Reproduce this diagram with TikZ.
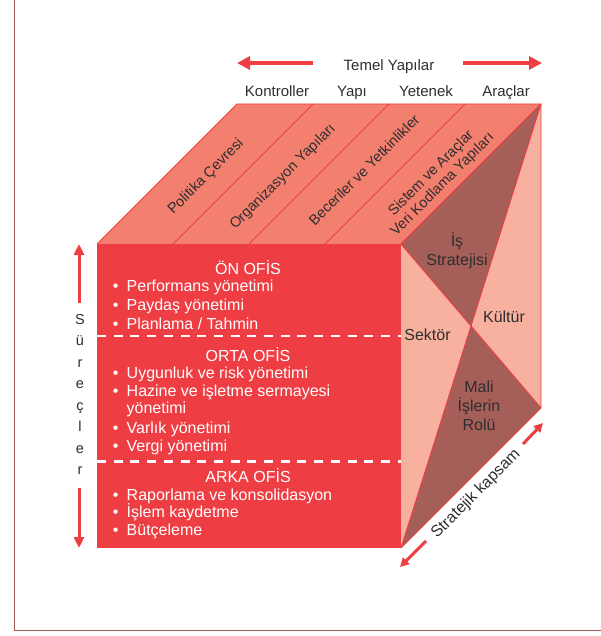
\documentclass[tikz,border=0pt]{standalone}
\usepackage{fontspec}
\setmainfont{Liberation Sans}
\usetikzlibrary{arrows.meta}
\definecolor{frontred}{HTML}{EE3D43}
\definecolor{topsalmon}{HTML}{F37F6F}
\definecolor{darkbrown}{HTML}{A65E58}
\definecolor{lightsalmon}{HTML}{F8B19E}
\definecolor{framecol}{HTML}{A85A5A}
\definecolor{txtgray}{HTML}{2E2E2E}
\tikzset{
  edge/.style={draw=frontred, line width=0.9pt, line join=round},
  bigarrow/.style={draw=frontred, line width=4pt, -{Triangle[length=13pt,width=13pt]}},
  midarrow/.style={draw=frontred, line width=3pt, -{Triangle[length=11pt,width=10pt]}},
  smallarrow/.style={draw=frontred, line width=3pt, -{Triangle[length=9pt,width=9pt]}},
  lbl/.style={text=txtgray, font=\fontsize{15}{18}\selectfont, inner sep=0pt, anchor=base},
  toplbl/.style={text=txtgray, font=\fontsize{14.5}{16}\selectfont, inner sep=0pt, rotate=45, align=center},
  facelbl/.style={text=txtgray, font=\fontsize{16}{19}\selectfont, inner sep=0pt, anchor=base},
  head/.style={text=white, font=\fontsize{16}{19}\selectfont, inner sep=0pt, anchor=base},
  item/.style={text=white, font=\fontsize{16}{19}\selectfont, inner sep=0pt, anchor=base west},
  bul/.style={text=white, font=\fontsize{16}{19}\selectfont, inner sep=0pt, anchor=base},
  sep/.style={draw=white, line width=2.5pt, dash pattern=on 9pt off 7.7pt}
}
\begin{document}
\begin{tikzpicture}[x=1pt,y=-1pt]
\useasboundingbox (0,0) rectangle (601,636);
% frame
\coordinate (fTop) at (14.5,0);
\coordinate (fCorner) at (14.5,630.5);
\coordinate (fRight) at (601,630.5);
\draw[framecol, line width=1.5pt] (fTop) -- (fCorner) -- (fRight);

% cube corners
\coordinate (A) at (97,244);
\coordinate (B) at (401,244);
\coordinate (C) at (401,548);
\coordinate (D) at (97,548);
\coordinate (E) at (237,104);
\coordinate (F) at (541,104);
\coordinate (G) at (541,408);
\coordinate (M) at (471,326);

% top face
\fill[topsalmon] (A) -- (B) -- (F) -- (E) -- cycle;
\foreach \i/\fx/\bx in {1/173/313, 2/249/389, 3/325/465}{
  \coordinate (tf\i) at (\fx,244);
  \coordinate (tb\i) at (\bx,104);
  \draw[edge] (tf\i) -- (tb\i);
}
\draw[edge] (A) -- (E) -- (F) -- (B);

% right face
\fill[lightsalmon] (B) -- (F) -- (G) -- (C) -- cycle;
\fill[darkbrown] (B) -- (F) -- (M) -- cycle;
\fill[darkbrown] (C) -- (G) -- (M) -- cycle;
\draw[edge] (B) -- (M) -- (F);
\draw[edge] (C) -- (M) -- (G);
\draw[edge] (B) -- (F) -- (G) -- (C);

% front face
\fill[frontred] (A) rectangle (C);

% separators
\coordinate (s1a) at (97,336);
\coordinate (s1b) at (401,336);
\coordinate (s2a) at (97,461.5);
\coordinate (s2b) at (401,461.5);
\draw[sep] (s1a) -- (s1b);
\draw[sep] (s2a) -- (s2b);

% front texts
\node[head] (on) at (248,274) {ÖN OFİS};
\node[head] (orta) at (248,361) {ORTA OFİS};
\node[head] (arka) at (248,482) {ARKA OFİS};
\foreach \n/\y/\t in {b1/291/{Performans yönetimi}, b2/310/{Paydaş yönetimi}, b3/329/{Planlama / Tahmin},
  b4/378/{Uygunluk ve risk yönetimi}, b5/396/{Hazine ve işletme sermayesi},
  b7/433/{Varlık yönetimi}, b8/451/{Vergi yönetimi},
  b9/500/{Raporlama ve konsolidasyon}, b10/517.5/{İşlem kaydetme}, b11/535/{Bütçeleme}}{
  \node[bul] (d\n) at (115.7,\y) {•};
  \node[item] (\n) at (126.5,\y) {\t};
}
\node[item] (b6) at (126.5,413.5) {yönetimi};

% top face labels
\node[toplbl] (t1) at (206,177) {Politika Çevresi};
\node[toplbl] (t2) at (283,177) {Organizasyon Yapıları};
\node[toplbl] (t3) at (364,170) {Beceriler ve Yetkinlikler};
\node[toplbl] (t4) at (437,179) {Sistem ve Araçlar\\Veri Kodlama Yapıları};

% right face labels
\node[facelbl] (r1a) at (457,246.5) {İş};
\node[facelbl] (r1b) at (457,265) {Stratejisi};
\node[facelbl] (r2) at (504,322) {Kültür};
\node[facelbl] (r3) at (427.5,340.5) {Sektör};
\node[facelbl] (r4a) at (479,392.5) {Mali};
\node[facelbl] (r4b) at (479,411.5) {İşlerin};
\node[facelbl] (r4c) at (479,430) {Rolü};

% column labels
\node[lbl] (k1) at (277,97) {Kontroller};
\node[lbl] (k2) at (352,97) {Yapı};
\node[lbl] (k3) at (426,97) {Yetenek};
\node[lbl] (k4) at (506,97) {Araçlar};
\node[lbl] (temel) at (389,71) {Temel Yapılar};
\coordinate (la) at (313,63);
\coordinate (lb) at (237,63);
\coordinate (ra) at (463,63);
\coordinate (rb) at (542,63);
\draw[bigarrow] (la) -- (lb);
\draw[bigarrow] (ra) -- (rb);

% Surecler
\foreach \k/\ch in {0/S,1/ü,2/r,3/e,4/ç,5/l,6/e,7/r}{
  \node[text=txtgray, font=\fontsize{14.5}{17}\selectfont, inner sep=0pt, anchor=base] (sur\k) at (80,324+21.5*\k) {\ch};
}
\coordinate (ua) at (79,303);
\coordinate (ub) at (79,244);
\coordinate (da) at (79,488);
\coordinate (db) at (79,548);
\draw[midarrow] (ua) -- (ub);
\draw[midarrow] (da) -- (db);

% Stratejik kapsam
\node[text=txtgray, inner sep=0pt, font=\fontsize{16}{19}\selectfont, rotate=45] (sk) at (476,494) {Stratejik kapsam};
\coordinate (sa) at (523,444);
\coordinate (sb) at (543,423);
\coordinate (sc) at (426,541);
\coordinate (sd) at (400,567);
\draw[smallarrow] (sa) -- (sb);
\draw[smallarrow] (sc) -- (sd);
\end{tikzpicture}
\end{document}
